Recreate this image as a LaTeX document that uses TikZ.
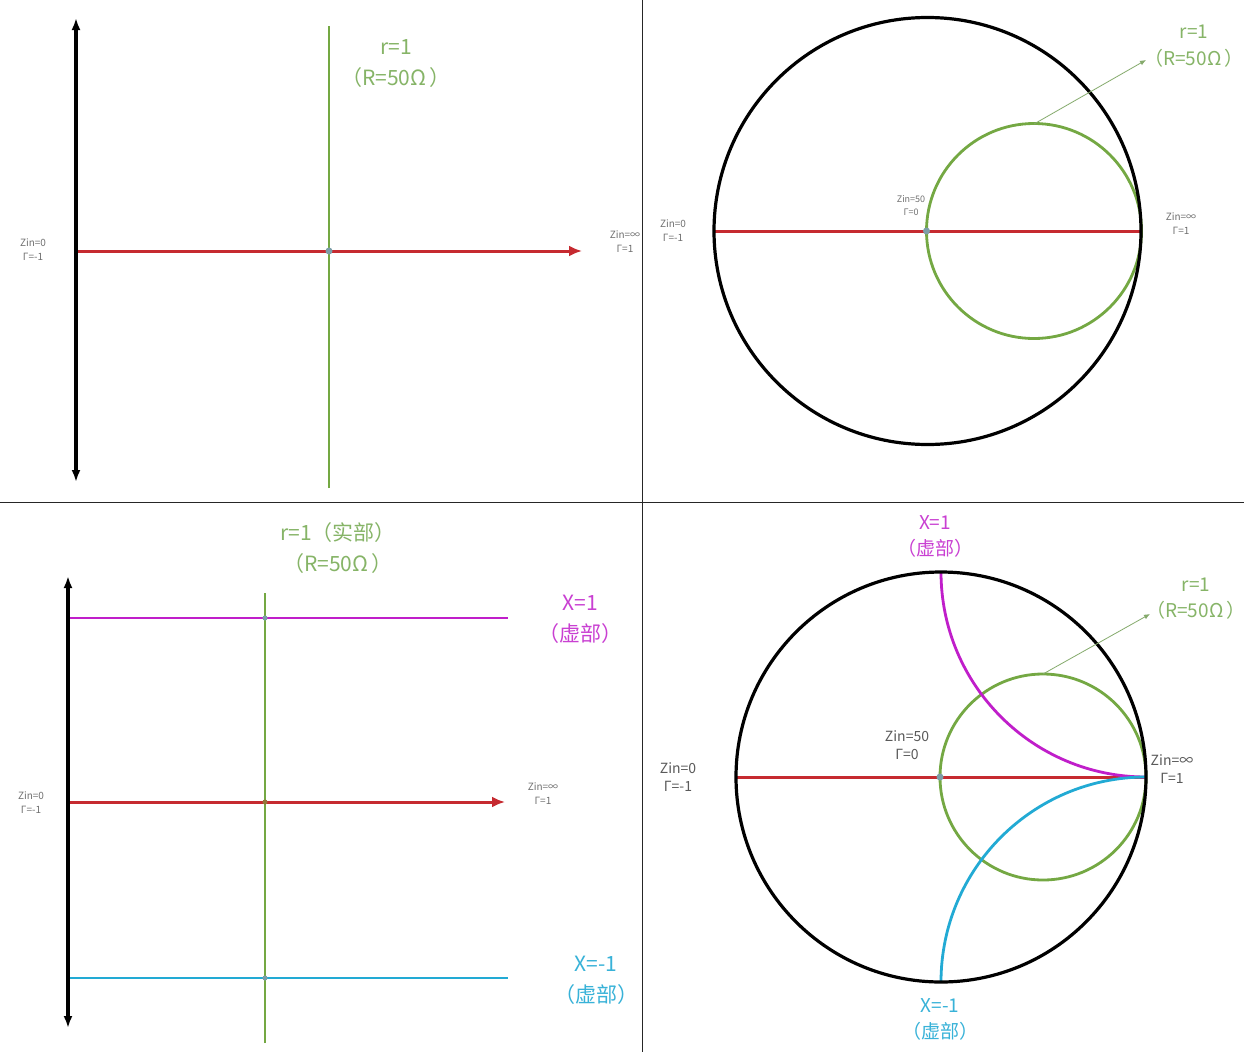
\documentclass[tikz,border=0pt]{standalone}
\usepackage{fontspec}
\setmainfont{Noto Sans CJK SC}
\usetikzlibrary{arrows.meta,positioning}
\definecolor{SmithRed}{HTML}{C62A30}
\definecolor{SmithGreen}{HTML}{74A843}
\definecolor{LabelGreen}{HTML}{86B467}
\definecolor{SmithMagenta}{HTML}{C01ECA}
\definecolor{SmithCyan}{HTML}{22AAD4}
\definecolor{LabelGray}{HTML}{707070}
\definecolor{DotBlue}{HTML}{7C9EA8}
\tikzset{
  axisline/.style={line width=3.2pt, black, {Latex[length=12pt,width=9pt]}-{Latex[length=12pt,width=9pt]}},
  realline/.style={line width=3pt, SmithRed},
  realarr/.style={realline, -{Latex[length=13pt,width=11pt]}},
  rline/.style={line width=2.8pt, SmithGreen},
  xposline/.style={line width=2.8pt, SmithMagenta},
  xnegline/.style={line width=2.8pt, SmithCyan},
  rimline/.style={line width=3.2pt, black},
  pointer/.style={line width=0.8pt, LabelGreen!80!gray, -{Latex[length=6pt,width=5pt]}},
  panelline/.style={line width=1pt, black!85},
  dotmark/.style={circle, fill=DotBlue, inner sep=0pt, minimum size=7pt},
  smalllbl/.style={font=\fontsize{10}{14}\selectfont, text=LabelGray, align=center},
  midlbl/.style={font=\fontsize{14}{18}\selectfont, text=LabelGray!80!black, align=center},
  greenlbl/.style={font=\fontsize{21}{31}\selectfont, text=LabelGreen, align=center},
  magentalbl/.style={font=\fontsize{21}{31}\selectfont, text=SmithMagenta!85, align=center},
  cyanlbl/.style={font=\fontsize{21}{31}\selectfont, text=SmithCyan!90, align=center}
}
\begin{document}
\begin{tikzpicture}[x=1pt, y=-1pt]
\fill[white] (0,0) rectangle (1244,1052);
\useasboundingbox (0,0) rectangle (1244,1052);
% panel frames
\draw[panelline] (642,0) -- (642,1052);
\draw[panelline] (0,502) -- (1244,502);

% top left: impedance plane, real axis only
\coordinate (aTop) at (76,18);
\coordinate (aBot) at (76,482);
\coordinate (aLeft) at (76,251);
\coordinate (aRight) at (582,251);
\coordinate (aRTop) at (329,26);
\coordinate (aRBot) at (329,488);
\draw[realarr] (aLeft) -- (aRight);
\draw[rline] (aRBot) -- (aRTop);
\draw[axisline] (aBot) -- (aTop);
\node[dotmark] (aMatch) at (329,251) {};
\node[greenlbl] (aRLabel) at (396,64) {r=1\\（R=50Ω\,）};
\node[smalllbl] (aZero) at (33,250) {Zin=0\\Γ=-1};
\node[smalllbl] (aInf) at (625,242) {Zin=∞\\Γ=1};

% top right: mapped to the unit circle
\coordinate (bCtr) at (927.5,231);
\coordinate (bLeft) at (714,231);
\coordinate (bRight) at (1141,231);
\coordinate (bRCtr) at (1034,231);
\coordinate (bRTop) at (1034,124);
\coordinate (bTip) at (1146,60);
\draw[realline] (bLeft) -- (bRight);
\draw[rline] (bRCtr) circle[radius=107.5pt];
\draw[rimline] (bCtr) circle[radius=213.5pt];
\draw[pointer] (bRTop) -- (bTip);
\node[dotmark] (bMatch) at (926.5,231) {};
\node[greenlbl, font=\fontsize{19}{27}\selectfont] (bRLabel) at (1194,46) {r=1\\（R=50Ω\,）};
\node[smalllbl, font=\fontsize{9}{13}\selectfont] (bFifty) at (911,206) {Zin=50\\Γ=0};
\node[smalllbl] (bZero) at (673,231) {Zin=0\\Γ=-1};
\node[smalllbl] (bInf) at (1181,224) {Zin=∞\\Γ=1};

% bottom left: impedance plane with reactance lines
\coordinate (cTop) at (68,576);
\coordinate (cBot) at (68,1028);
\coordinate (cPosL) at (68,618);
\coordinate (cPosR) at (508,618);
\coordinate (cLeft) at (68,802);
\coordinate (cRight) at (505,802);
\coordinate (cNegL) at (68,978);
\coordinate (cNegR) at (508,978);
\coordinate (cRTop) at (265,593);
\coordinate (cRBot) at (265,1043);
\draw[xposline] (cPosL) -- (cPosR);
\draw[realarr] (cLeft) -- (cRight);
\draw[xnegline] (cNegL) -- (cNegR);
\draw[rline] (cRBot) -- (cRTop);
\draw[axisline] (cBot) -- (cTop);
\node[dotmark, minimum size=5pt] (cPos) at (265,618) {};
\node[dotmark, minimum size=5pt, fill=SmithGreen!60!SmithRed] (cMatch) at (265,802) {};
\node[dotmark, minimum size=5pt] (cNeg) at (265,978) {};
\node[greenlbl] (cRLabel) at (338,548) {r=1（实部）\\（R=50Ω\,）};
\node[magentalbl] (cPosLabel) at (580,619) {X=1\\（虚部）};
\node[cyanlbl] (cNegLabel) at (596,980) {X=-1\\（虚部）};
\node[smalllbl] (cZero) at (31,803) {Zin=0\\Γ=-1};
\node[smalllbl] (cInf) at (543,794) {Zin=∞\\Γ=1};

% bottom right: full picture on the Smith chart
\coordinate (dCtr) at (941,777);
\coordinate (dLeft) at (736,777);
\coordinate (dRight) at (1146,777);
\coordinate (dTop) at (941,572);
\coordinate (dBot) at (941,982);
\coordinate (dRCtr) at (1043,777);
\coordinate (dRTop) at (1043,674);
\coordinate (dTip) at (1150,614);
\draw[realline] (dLeft) -- (dRight);
\draw[rline] (dRCtr) circle[radius=103pt];
\draw[xposline] (dTop) arc[start angle=180, end angle=270, radius=205pt];
\draw[xnegline] (dBot) arc[start angle=180, end angle=90, radius=205pt];
\draw[rimline] (dCtr) circle[radius=205pt];
\draw[pointer] (dRTop) -- (dTip);
\node[dotmark] (dMatch) at (940,777) {};
\node[greenlbl, font=\fontsize{19}{26}\selectfont] (dRLabel) at (1196,599) {r=1\\（R=50Ω\,）};
\node[magentalbl, font=\fontsize{19}{26}\selectfont] (dPosLabel) at (935,536) {X=1\\（虚部）};
\node[cyanlbl, font=\fontsize{19}{26}\selectfont] (dNegLabel) at (940,1019) {X=-1\\（虚部）};
\node[midlbl] (dFifty) at (907,745) {Zin=50\\Γ=0};
\node[midlbl] (dZero) at (678,777) {Zin=0\\Γ=-1};
\node[midlbl] (dInf) at (1172,769) {Zin=∞\\Γ=1};
\end{tikzpicture}
\end{document}
